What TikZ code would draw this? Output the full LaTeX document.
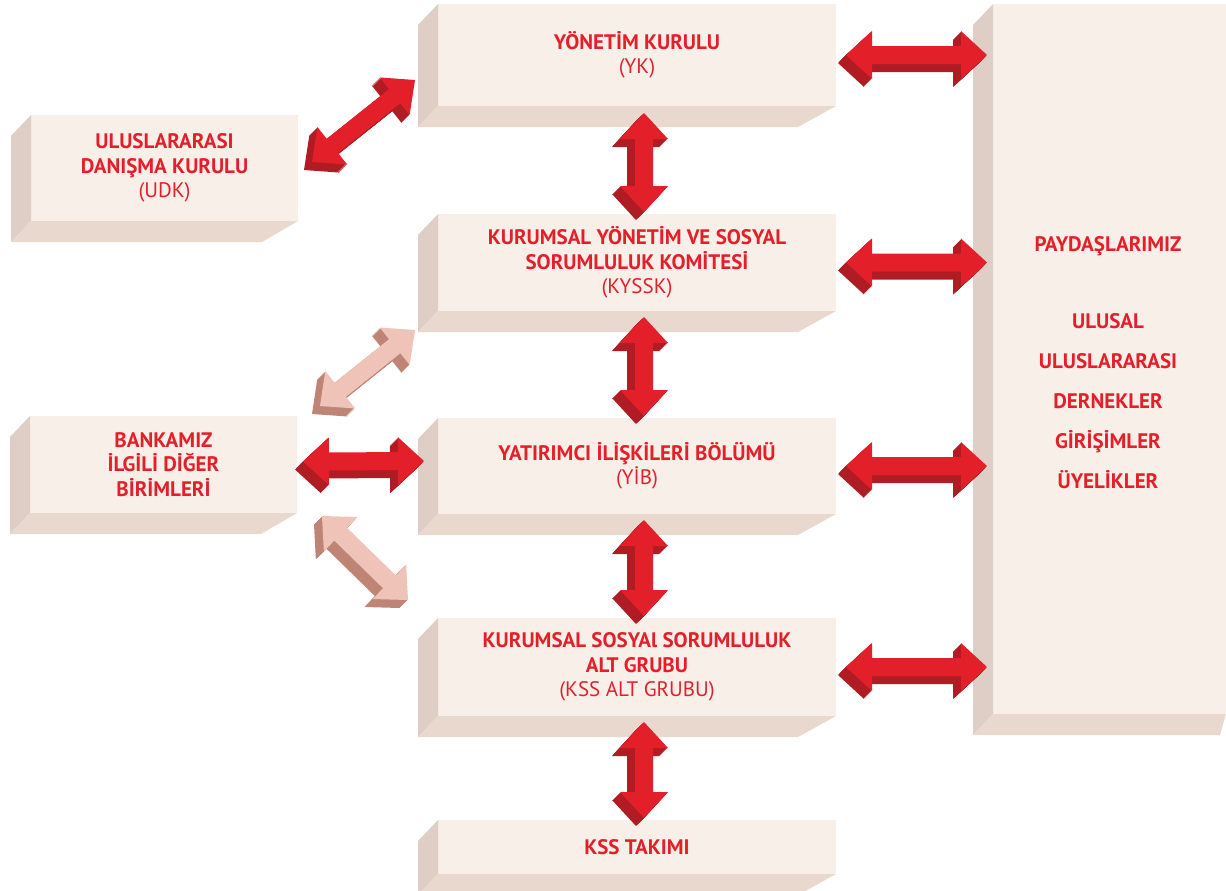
\documentclass[tikz,border=0pt]{standalone}
\usepackage{fontspec}
\setmainfont{PT Sans}
\usetikzlibrary{calc}
\definecolor{kirmizi}{HTML}{E3202A}
\definecolor{koyukirmizi}{HTML}{AF1C23}
\definecolor{pembe}{HTML}{EFC3B8}
\definecolor{koyupembe}{HTML}{BE8577}
\definecolor{kutuon}{HTML}{F8EFE9}
\definecolor{kutuyan}{HTML}{DFCEC5}
\definecolor{kutualt}{HTML}{E9D8CE}
%% ok govdesi (iki uclu)
\newcommand{\okciz}[3]{%
  \fill[#3] (#1) -- ($(#1)!13pt!(#2)!12pt!90:(#2)$) -- ($(#1)!13pt!(#2)!4.5pt!90:(#2)$)
  -- ($(#2)!13pt!(#1)!-4.5pt!90:(#1)$) -- ($(#2)!13pt!(#1)!-12pt!90:(#1)$) -- (#2)
  -- ($(#2)!13pt!(#1)!12pt!90:(#1)$) -- ($(#2)!13pt!(#1)!4.5pt!90:(#1)$)
  -- ($(#1)!13pt!(#2)!-4.5pt!90:(#2)$) -- ($(#1)!13pt!(#2)!-12pt!90:(#2)$) -- cycle;}
%% kabartmali cift ok
\newcommand{\cifteok}[4]{%
  \foreach \k in {8,7,...,1}{%
    \path ($(#1)+({-0.5pt*\k},{-0.5pt*\k})$) coordinate (oa)
          ($(#2)+({-0.5pt*\k},{-0.5pt*\k})$) coordinate (ob);
    \okciz{oa}{ob}{#4}}
  \okciz{#1}{#2}{#3}}
\begin{document}
\begin{tikzpicture}[x=0.5pt, y=-0.5pt, line join=round,
    kutu/.style={fill=kutuon, inner sep=0pt, outer sep=0pt, text=kirmizi,
      align=center, font=\fontsize{10.5}{12.2}\selectfont}]
	\clip (0,0) rectangle (1226,890);
	%% Kutular
	\node[kutu, minimum width=199pt, minimum height=51pt] (yk) at (637,55)
	{\textbf{YÖNETİM KURULU}\\(YK)};
	\node[kutu, minimum width=133.5pt, minimum height=53pt] (udk) at (164.5,168)
	{\textbf{ULUSLARARASI}\\\textbf{DANIŞMA KURULU}\\(UDK)};
	\node[kutu, minimum width=199pt, minimum height=48.5pt] (kyssk) at (637,262.5)
	{\textbf{KURUMSAL YÖNETİM VE SOSYAL}\\\textbf{SORUMLULUK KOMİTESİ}\\(KYSSK)};
	\node[kutu, minimum width=199pt, minimum height=48pt] (yib) at (637,466)
	{\textbf{YATIRIMCI İLİŞKİLERİ BÖLÜMÜ}\\(YİB)};
	\node[kutu, minimum width=199pt, minimum height=49pt] (kss) at (637,667)
	{\textbf{KURUMSAL SOSYAl SORUMLULUK}\\\textbf{ALT GRUBU}\\(KSS ALT GRUBU)};
	\node[kutu, minimum width=199pt, minimum height=27pt] (takim) at (637,847)
	{\textbf{KSS TAKIMI}};
	\node[kutu, minimum width=133.5pt, minimum height=48.5pt] (banka) at (163.5,464.5)
	{\textbf{BANKAMIZ}\\\textbf{İLGİLİ DİĞER}\\\textbf{BİRİMLERİ}};
	\node[kutu, minimum width=116.5pt, minimum height=355pt] (pay) at (1109.5,359) {};
	\node[text=kirmizi, align=center, font=\fontsize{10.5}{20}\selectfont\bfseries] (payt) at (1108,363)
	{PAYDAŞLARIMIZ\\[18.5pt]ULUSAL\\ULUSLARARASI\\DERNEKLER\\GİRİŞİMLER\\ÜYELİKLER};
	
	%% Yan ve alt yuzler
	\foreach \n/\d in {udk/-36,yk/-38,kyssk/-38,yib/-38,kss/-38,takim/-38,banka/-36,pay/-6}{
		\fill[kutuyan] (\n.north west) -- (\n.south west) -- ++(-20,21)
		-- ($(\n.north west)+(-20,21)$) -- cycle;
		\fill[kutualt] (\n.south west) -- (\n.south east) -- ++(\d,21)
		-- ($(\n.south west)+(-20,21)$) -- cycle;
	}
	
	%% Ok uclari
	\path
	($(yk.east)+(10,0)$) coordinate (yk-pay)
	($(pay.west |- yk.east)+(-6,0)$) coordinate (pay-yk)
	($(kyssk.east)+(10,0)$) coordinate (kyssk-pay)
	($(pay.west |- kyssk.east)+(-6,0)$) coordinate (pay-kyssk)
	($(yib.east)+(10,0)$) coordinate (yib-pay)
	($(pay.west |- yib.east)+(-6,0)$) coordinate (pay-yib)
	($(kss.east)+(10,0)$) coordinate (kss-pay)
	($(pay.west |- kss.east)+(-6,0)$) coordinate (pay-kss)
	($(yk.south)+(7,7)$) coordinate (yk-kyssk)
	($(kyssk.north)+(7,-2)$) coordinate (kyssk-yk)
	($(kyssk.south)+(7,6)$) coordinate (kyssk-yib)
	($(yib.north)+(7,-2)$) coordinate (yib-kyssk)
	($(yib.south)+(7,6)$) coordinate (yib-kss)
	($(kss.north)+(7,-2)$) coordinate (kss-yib)
	($(kss.south)+(7,6)$) coordinate (kss-takim)
	($(takim.north)+(7,-2)$) coordinate (takim-kss)
	($(udk.east)+(14,-6)$) coordinate (udk-yk)
	($(yk.west)+(-23,25)$) coordinate (yk-udk)
	($(banka.north east)+(23,-10)$) coordinate (banka-kyssk)
	($(kyssk.south west)+(-23,19)$) coordinate (kyssk-banka)
	($(banka.east)+(6,-3)$) coordinate (banka-yib)
	($(yib.west)+(-14,-5)$) coordinate (yib-banka)
	($(banka.south east)+(25,3)$) coordinate (banka-kss)
	($(kss.north west)+(-30,-18)$) coordinate (kss-banka)
	;
	
	%% Oklar
	\foreach \a/\b/\c/\d in {yk-pay/pay-yk/kirmizi/koyukirmizi,
		kyssk-pay/pay-kyssk/kirmizi/koyukirmizi,
		yib-pay/pay-yib/kirmizi/koyukirmizi,
		kss-pay/pay-kss/kirmizi/koyukirmizi,
		yk-kyssk/kyssk-yk/kirmizi/koyukirmizi,
		kyssk-yib/yib-kyssk/kirmizi/koyukirmizi,
		yib-kss/kss-yib/kirmizi/koyukirmizi,
		kss-takim/takim-kss/kirmizi/koyukirmizi,
		udk-yk/yk-udk/kirmizi/koyukirmizi,
		banka-yib/yib-banka/kirmizi/koyukirmizi,
		banka-kyssk/kyssk-banka/pembe/koyupembe,
		banka-kss/kss-banka/pembe/koyupembe}
	{\cifteok{\a}{\b}{\c}{\d}}
\end{tikzpicture}
\end{document}
